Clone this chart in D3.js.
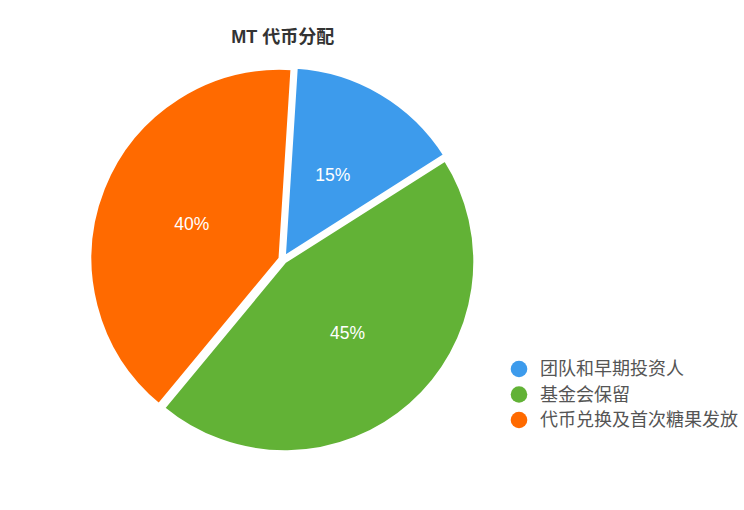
<!DOCTYPE html>
<html>
<head>
<meta charset="utf-8">
<script src="https://cdn.jsdelivr.net/npm/d3@7"></script>
<style>
  body { margin: 0; background: #fff; }
  text { font-family: "Liberation Sans", "Noto Sans CJK SC", sans-serif; }
</style>
</head>
<body>
<svg width="744" height="510"></svg>
<script>
// chart data
let categories = ["团队和早期投资人", "基金会保留", "代币兑换及首次糖果发放"];
let shares = [15, 45, 40];
let chartTitle = "MT 代币分配";

let palette = ["#3d9bec", "#62b236", "#ff6a00"];

let svg = d3.select("svg");
let cx = 282.8, cy = 259.5;
let radius = 190;
let explode = 3;

let color = d3.scaleOrdinal()
    .domain(categories)
    .range(palette);

// pie is rotated slightly clockwise in the original
let rot = 0.063;
let pie = d3.pie()
    .sort(null)
    .value(function(d) { return d.value; })
    .startAngle(rot)
    .endAngle(2 * Math.PI + rot);

let arc = d3.arc()
    .innerRadius(0)
    .outerRadius(radius);

let rows = categories.map(function(c, i) { return {name: c, value: shares[i]}; });
let arcs = pie(rows);

let g = svg.append("g")
    .attr("transform", "translate(" + cx + "," + cy + ")");

function offset(d) {
  let a = (d.startAngle + d.endAngle) / 2;
  return [Math.sin(a) * explode, -Math.cos(a) * explode];
}

let slice = g.selectAll("g.slice")
    .data(arcs)
    .enter()
    .append("g")
      .attr("class", "slice")
      .attr("transform", function(d) {
        let o = offset(d);
        return "translate(" + o[0] + "," + o[1] + ")";
      });

slice.append("path")
    .attr("d", arc)
    .style("fill", function(d) { return color(d.data.name); })
    .style("stroke", "#fff")
    .style("stroke-width", 3)
    .style("stroke-linejoin", "round");

slice.append("text")
    .attr("transform", function(d) { return "translate(" + arc.centroid(d) + ")"; })
    .attr("text-anchor", "middle")
    .attr("dy", "0.36em")
    .style("fill", "#fff")
    .style("font-size", "17.5px")
    .text(function(d) { return d.data.value + "%"; });

// title
svg.append("text")
    .attr("x", cx)
    .attr("y", 43)
    .attr("text-anchor", "middle")
    .style("font-size", "18px")
    .style("font-weight", "bold")
    .style("fill", "#333")
    .text(chartTitle);

// legend
let legend = svg.append("g")
    .attr("transform", "translate(519,369)");

let item = legend.selectAll("g")
    .data(categories)
    .enter()
    .append("g")
      .attr("transform", function(d, i) { return "translate(0," + (i * 25.5) + ")"; });

item.append("circle")
    .attr("r", 8.3)
    .style("fill", function(d) { return color(d); });

item.append("text")
    .attr("x", 21)
    .attr("dy", "0.35em")
    .style("font-size", "18px")
    .style("fill", "#555")
    .text(function(d) { return d; });
</script>
</body>
</html>
